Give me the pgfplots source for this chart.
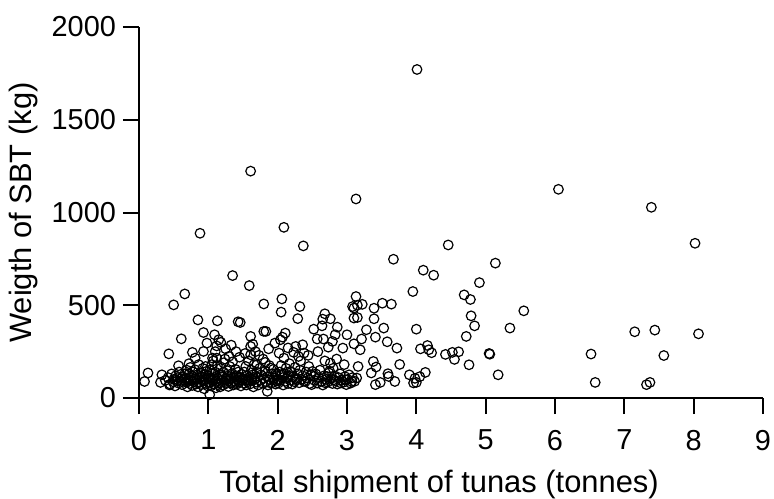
\documentclass[border=0pt]{standalone}
\usepackage{fontspec}
\setmainfont{Liberation Sans}
\usepackage{pgfplots}
\pgfplotsset{compat=1.18}
\usepackage{pgfplotstable}

\pgfplotstableread{
x y
4.01 1771
1.61 1223
3.13 1073
2.09 920
0.88 888
2.37 820
4.46 825
6.05 1125
7.39 1028
8.02 834
7.15 357
7.44 366
8.07 346
6.52 237
7.57 229
6.58 84
7.32 72
7.37 84
5.14 727
4.91 622
4.69 556
4.78 531
5.55 470
4.79 443
4.84 389
5.35 377
4.72 332
5.05 240
5.06 236
4.76 179
5.18 125
3.67 748
4.10 689
4.25 662
3.95 574
3.51 511
3.64 506
3.13 547
3.15 500
3.22 505
3.10 485
3.39 484
3.15 434
3.39 427
3.53 377
3.28 368
4.00 371
3.41 328
3.21 318
3.58 303
3.72 269
4.06 265
4.16 283
4.18 260
4.22 244
3.19 260
4.42 235
4.52 246
4.61 249
4.55 208
3.76 181
3.38 197
3.35 135
3.42 167
3.59 131
3.60 116
3.69 89
3.48 84
3.41 72
3.90 125
3.98 106
4.05 115
4.13 138
4.00 84
3.96 81
3.16 170
3.14 108
1.59 606
1.80 507
2.06 534
2.05 463
2.32 493
2.29 428
2.68 454
2.65 425
2.76 427
2.64 389
2.52 371
3.08 493
3.10 431
1.80 359
1.83 359
1.61 332
2.11 350
2.07 328
2.04 314
2.57 318
2.66 318
2.86 382
2.83 341
2.79 305
3.00 341
3.10 292
2.73 274
2.94 269
1.96 296
2.26 278
2.36 287
2.23 246
2.30 224
2.09 215
2.38 242
2.02 242
1.61 278
1.61 233
1.70 179
1.82 192
1.90 161
1.97 131
1.94 98
2.06 125
2.14 113
2.18 143
2.28 98
2.45 170
2.50 143
2.52 116
2.49 72
2.40 89
2.69 81
2.71 116
2.74 135
2.81 98
2.91 81
2.98 98
3.07 89
2.76 188
1.85 36
1.58 98
1.68 116
1.35 660
0.66 561
0.50 502
0.85 421
1.13 416
1.43 411
1.46 407
0.61 319
0.93 353
1.09 341
1.15 314
0.98 296
1.12 281
0.43 238
0.77 246
0.81 215
0.93 251
1.06 215
0.57 174
0.72 185
0.13 135
0.08 89
0.33 125
0.31 84
1.02 18
0.38 95
0.42 110
0.45 75
0.47 130
0.49 88
0.50 100
0.52 65
0.53 120
0.55 92
0.57 80
0.58 140
0.60 105
0.62 72
0.63 115
0.65 95
0.66 130
0.68 85
0.69 150
0.70 60
0.44 70
0.56 110
0.61 90
0.67 108
0.71 100
0.72 130
0.73 78
0.74 165
0.75 95
0.76 120
0.77 68
0.78 140
0.79 88
0.80 110
0.81 152
0.82 75
0.83 98
0.84 125
0.85 60
0.86 180
0.87 105
0.88 85
0.89 135
0.90 72
0.91 115
0.92 160
0.93 92
0.94 50
0.95 128
0.96 100
0.97 78
0.98 145
0.99 110
0.72 90
0.84 82
0.90 98
0.96 170
0.99 65
1.00 120
1.01 85
1.02 150
1.03 100
1.04 65
1.05 130
1.06 95
1.07 200
1.08 75
1.09 110
1.10 140
1.11 55
1.12 90
1.13 175
1.14 105
1.15 80
1.16 125
1.17 60
1.18 160
1.19 95
1.20 115
1.21 70
1.22 138
1.23 88
1.24 210
1.25 100
1.26 78
1.27 148
1.28 118
1.29 62
1.30 92
1.31 170
1.32 105
1.33 82
1.34 132
1.35 195
1.36 70
1.37 112
1.38 90
1.39 155
1.40 120
1.41 75
1.42 100
1.43 140
1.44 85
1.45 220
1.46 110
1.47 65
1.48 128
1.49 95
1.03 108
1.14 72
1.19 125
1.26 108
1.38 78
1.44 115
1.12 215
1.22 190
1.30 225
1.40 250
1.10 250
1.25 265
1.05 180
1.18 300
1.33 285
1.50 105
1.51 80
1.52 140
1.53 95
1.54 170
1.55 70
1.56 120
1.57 88
1.58 200
1.59 110
1.60 75
1.62 150
1.63 95
1.64 125
1.65 60
1.66 180
1.67 100
1.69 85
1.70 140
1.71 110
1.72 70
1.74 160
1.75 95
1.76 125
1.78 80
1.79 210
1.80 105
1.82 145
1.83 88
1.85 115
1.86 70
1.88 175
1.89 98
1.91 130
1.92 82
1.94 155
1.95 108
1.97 75
1.98 120
1.99 92
1.53 240
1.68 250
1.73 230
1.64 290
1.87 265
2.00 100
2.01 80
2.03 140
2.04 95
2.05 175
2.07 110
2.08 70
2.10 130
2.11 90
2.12 160
2.13 105
2.15 78
2.16 120
2.17 185
2.19 95
2.20 140
2.21 75
2.22 115
2.24 88
2.25 165
2.26 105
2.29 130
2.31 82
2.32 150
2.34 100
2.36 120
2.38 90
2.41 140
2.43 108
2.46 78
2.48 125
2.15 270
2.33 200
2.44 230
2.53 95
2.55 130
2.57 80
2.59 110
2.61 150
2.63 90
2.65 70
2.67 120
2.70 100
2.72 85
2.75 145
2.77 105
2.79 78
2.80 160
2.82 120
2.84 92
2.86 75
2.88 110
2.90 130
2.92 95
2.95 85
2.97 115
2.99 72
3.01 100
3.03 125
3.05 80
3.08 110
3.11 90
2.68 200
2.85 210
2.58 250
2.96 180
}\shipdata

\begin{document}
\begin{tikzpicture}
\begin{axis}[
    name=ax,
    scale only axis,
    width=312bp, height=185.5bp,
    xmin=0, xmax=9, ymin=0, ymax=2000,
    axis lines=left,
    axis line style={-, line width=1bp},
    xtick={0,1,...,9},
    ytick={0,500,1000,1500,2000},
    tick align=outside,
    major tick length=8bp,
    tick style={line width=1bp, black},
    ticklabel style={font=\fontsize{14.5}{17}\selectfont},
    xticklabel style={yshift=-4.5bp},
    yticklabel style={/pgf/number format/1000 sep={}},
    scaled ticks=false,
    /pgf/number format/assume math mode=true,
    label style={font=\fontsize{15.5}{18}\selectfont},
    xlabel style={yshift=-3bp, xshift=-6bp},
    xlabel={Total shipment of tunas (tonnes)},
    ylabel={Weigth of SBT (kg)},
    clip=false,
]
\addplot[only marks, mark=o, mark size=2.4bp, mark options={line width=0.6bp, black}] table[x=x, y=y] {\shipdata};
\end{axis}
\pgfresetboundingbox
\path[use as bounding box] ([shift={(-69.5bp,-50.5bp)}]ax.south west) rectangle ([shift={(5.5bp,13.5bp)}]ax.north east);
\end{tikzpicture}
\end{document}
